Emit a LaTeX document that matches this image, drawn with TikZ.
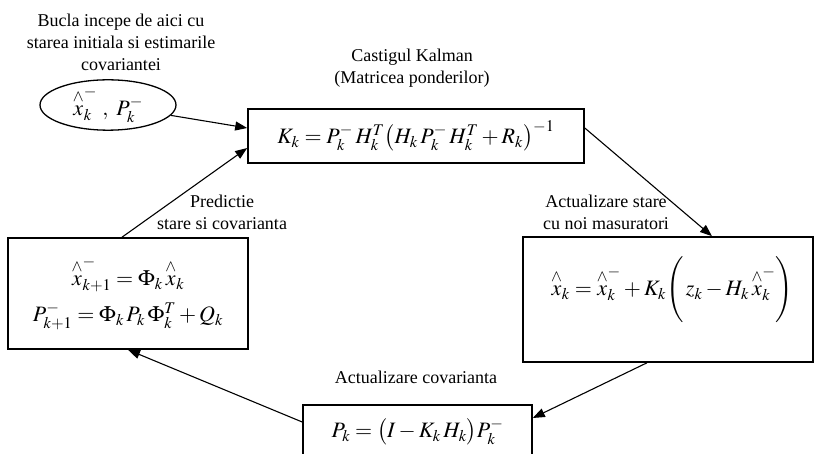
\documentclass[tikz,border=0pt]{standalone}
\usepackage{amsmath}
\usepackage{mathptmx}
\usepackage{fontspec}
\setmainfont{Liberation Serif}
\usetikzlibrary{arrows.meta,calc,shapes.geometric}
\newcommand{\xhat}{{\overset{\wedge}{x}}}

\begin{document}
\begin{tikzpicture}[x=1pt,y=-1pt,
      font=\fontsize{18}{22}\selectfont,
      lbl/.style={align=center,inner sep=0pt},
      eqbox/.style={draw,line width=1.6pt,inner sep=0pt},
      eq/.style={font=\fontsize{22}{26}\selectfont},
      arr/.style={-{Triangle[length=12pt,width=9pt]},line width=1.1pt}]
    \useasboundingbox (0,0) rectangle (815,454);
    \clip (0,0) rectangle (815,454);
    \node[draw,ellipse,line width=1.3pt,minimum width=136pt,minimum height=44pt,
          inner sep=0pt,eq] (init) at (108,105) {$\xhat_k^-\ ,\ P_k^-$};
    \node[eqbox,minimum width=336pt,minimum height=54pt,eq] (gain) at (416,136)
      {$K_k = P_k^-\,H_k^T \big(H_k\,P_k^-\,H_k^T + R_k\big)^{-1}$};
    \node[eqbox,minimum width=240pt,minimum height=111pt,eq,align=center] (pred)
      at (128,293.5) {$\xhat_{k+1}^- = \Phi_k\,\xhat_k$\\[10pt]$P_{k+1}^- = \Phi_k\,P_k\,\Phi_k^T + Q_k$};
    \node[eqbox,minimum width=290pt,minimum height=125pt] (upd) at (668,299.5) {};
    \node[eq] (updeq) at (672,290)
      {$\xhat_k = \xhat_k^- + K_k\Bigg(\, z_k - H_k\,\xhat_k^-\Bigg)$};
    \node[eqbox,minimum width=229pt,minimum height=54pt,eq] (cov) at (417.5,432)
      {$P_k = \big(I - K_k\,H_k\big)P_k^-$};
    \node[lbl] (startlbl) at (121,42) {Bucla incepe de aici cu\\starea initiala si estimarile\\covariantei};
    \node[lbl] (gainlbl) at (412,68) {Castigul Kalman\\(Matricea ponderilor)};
    \node[lbl] (predlbl) at (222,212) {Predictie\\stare si covarianta};
    \node[lbl] (updlbl) at (606,212) {Actualizare stare\\cu noi masuratori};
    \node[lbl] (covlbl) at (416,377) {Actualizare covarianta};
    \draw[arr] (init) -- ([yshift=8pt]gain.west);
    \draw[arr] ([xshift=-6pt]pred.north) -- ([yshift=-12pt]gain.west);
    \draw[arr] ([yshift=8pt]gain.east) -- ([xshift=44pt]upd.north);
    \draw[arr] ([xshift=-21pt]upd.south) -- ([yshift=14pt]cov.east);
    \draw[arr] ([yshift=10pt]cov.west) -- (pred.south);
  \end{tikzpicture}
\end{document}
